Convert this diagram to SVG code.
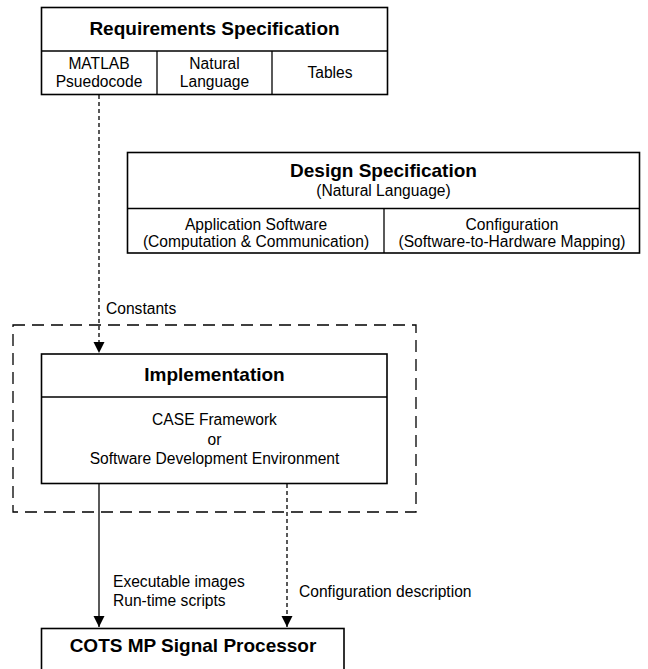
<svg xmlns="http://www.w3.org/2000/svg" width="648" height="669" viewBox="0 0 648 669">
<style>
.box{fill:#fff;stroke:#000;stroke-width:1.6}
.ln{stroke:#000;stroke-width:1.3;fill:none}
.t{font-family:"Liberation Sans",Arial,sans-serif;font-size:15.6px;fill:#000}
.b{font-family:"Liberation Sans",Arial,sans-serif;font-size:19px;font-weight:bold;fill:#000}
.c{text-anchor:middle}
.dash{stroke-dasharray:4,3}
</style>
<defs>
<marker id="ah" markerWidth="11" markerHeight="13" refX="11" refY="6.5" orient="auto" markerUnits="userSpaceOnUse">
<path d="M0,1 L11,6.5 L0,12 Z" fill="#000"/>
</marker>
</defs>
<rect width="648" height="669" fill="#fff"/>
<g id="boundary">
<rect x="13" y="325" width="403" height="187" fill="none" stroke="#000" stroke-width="1.3" stroke-dasharray="12,7"/>
</g>
<g id="connectors">
<line class="ln dash" x1="99" y1="95" x2="99" y2="353" marker-end="url(#ah)"/>
<line class="ln" x1="99" y1="484" x2="99" y2="627" marker-end="url(#ah)"/>
<line class="ln dash" x1="287" y1="484" x2="287" y2="627" marker-end="url(#ah)"/>
<text class="t" x="106" y="314">Constants</text>
<text class="t" x="113" y="587">Executable images</text>
<text class="t" x="113" y="606">Run-time scripts</text>
<text class="t" x="299" y="597">Configuration description</text>
</g>
<g id="requirements">
<rect class="box" x="41.5" y="7.5" width="346" height="87"/>
<line class="ln" x1="41.5" y1="51" x2="387.5" y2="51" stroke-width="1.6"/>
<line class="ln" x1="157" y1="51" x2="157" y2="94.5" stroke-width="1.6"/>
<line class="ln" x1="272" y1="51" x2="272" y2="94.5" stroke-width="1.6"/>
<text class="b c" x="214.5" y="35">Requirements Specification</text>
<text class="t c" x="99" y="69">MATLAB</text>
<text class="t c" x="99" y="87">Psuedocode</text>
<text class="t c" x="214.5" y="69">Natural</text>
<text class="t c" x="214.5" y="87">Language</text>
<text class="t c" x="330" y="78">Tables</text>
</g>
<g id="design">
<rect class="box" x="127.5" y="152.5" width="512" height="100.5"/>
<line class="ln" x1="127.5" y1="208.5" x2="639.5" y2="208.5" stroke-width="1.6"/>
<line class="ln" x1="384" y1="208.5" x2="384" y2="253" stroke-width="1.6"/>
<text class="b c" x="383.5" y="177">Design Specification</text>
<text class="t c" x="383.5" y="196">(Natural Language)</text>
<text class="t c" x="256" y="230">Application Software</text>
<text class="t c" x="256" y="247">(Computation &amp; Communication)</text>
<text class="t c" x="512" y="230">Configuration</text>
<text class="t c" x="512" y="247">(Software-to-Hardware Mapping)</text>
</g>
<g id="implementation">
<rect class="box" x="41.5" y="354" width="345.5" height="129.5"/>
<line class="ln" x1="41.5" y1="397" x2="387" y2="397" stroke-width="1.6"/>
<text class="b c" x="214.5" y="381">Implementation</text>
<text class="t c" x="214.5" y="425">CASE Framework</text>
<text class="t c" x="214.5" y="444.5">or</text>
<text class="t c" x="214.5" y="464">Software Development Environment</text>
</g>
<g id="cots">
<rect class="box" x="41.5" y="628.5" width="302.5" height="60"/>
<text class="b c" x="193" y="652">COTS MP Signal Processor</text>
</g>
</svg>
